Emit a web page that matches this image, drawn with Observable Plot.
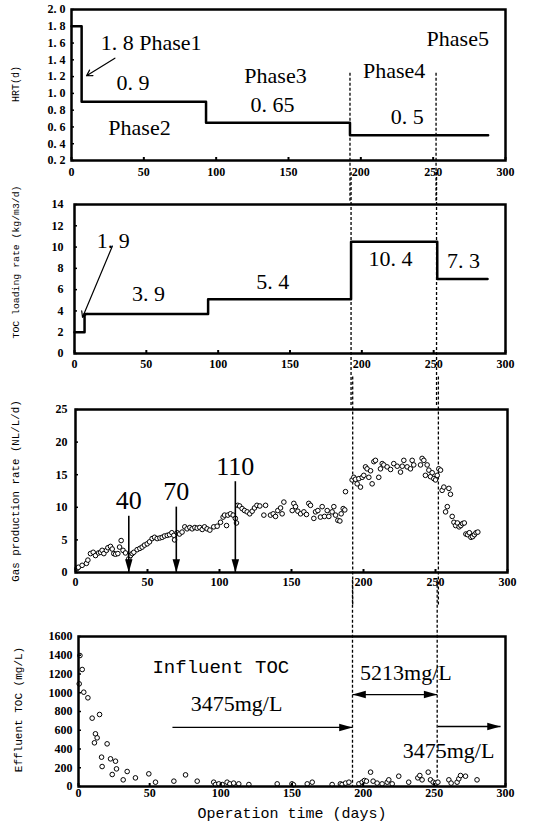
<!DOCTYPE html>
<html><head><meta charset="utf-8">
<script src="https://cdn.jsdelivr.net/npm/d3@7"></script>
<script src="https://cdn.jsdelivr.net/npm/@observablehq/plot@0.6"></script>
<style>
body{margin:0;background:#fff;width:536px;height:827px;overflow:hidden}
#chart svg{display:block;overflow:visible}
#chart svg text{font-family:"Liberation Serif","DejaVu Serif",serif !important}
</style></head><body><div id="chart"></div>
<script>
// ---------- shared ----------
const xTicks = [0, 50, 100, 150, 200, 250, 300];
const phaseBounds = [192.5, 252];

// ---------- panel 1: HRT ----------
const hrtDay = [0, 7, 93, 192.5, 288];
const hrtVal = [1.8, 0.9, 0.65, 0.5, 0.5];
const hrtTicks = [0.2, 0.4, 0.6, 0.8, 1.0, 1.2, 1.4, 1.6, 1.8, 2.0];
const hrtNotes = ["1. 8 Phase1", "0. 9", "Phase2", "Phase3", "0. 65", "Phase4", "0. 5", "Phase5"];
const hrtNoteDay = [55, 42.5, 47, 141, 139, 223, 232, 267];
const hrtNoteVal = [1.6, 1.12, 0.59, 1.21, 0.86, 1.27, 0.72, 1.65];

// ---------- panel 2: TOC loading rate ----------
const loadDay = [0, 7, 93, 192.5, 252.5, 287.5];
const loadVal = [2.0, 3.7, 5.1, 10.5, 7.0, 7.0];
const loadTicks = [0, 2, 4, 6, 8, 10, 12, 14];
const loadNotes = ["1. 9", "3. 9", "5. 4", "10. 4", "7. 3"];
const loadNoteDay = [27, 51.5, 138, 220, 270.7];
const loadNoteVal = [10.6, 5.55, 6.7, 8.9, 8.7];

// ---------- panel 3: gas production ----------
const gasDay = [1,2,4.6,7.6,8.6,10.4,12.3,13.9,16,17.4,18.5,19.7,21.5,22.5,24.3,25.5,26.6,27.8,29.4,30.6,31.7,33,34.7,37,38.2,39.4,40.5,42.8,44.7,46.3,47.9,49.8,51.4,53.2,54.9,56.7,58.6,60.2,61.8,63.7,65.3,66.9,68.3,68.8,70.6,72.2,74,75.9,77.5,79.4,81,82.9,84.5,86.3,88,89.6,91.4,93.3,96,98.4,100.7,102.5,103.5,104.9,105.8,107.6,109.5,111,111.8,112.7,114,115.7,117.4,119.2,121,122.7,124.3,126,128,130.8,132,135.4,137.3,138.9,140.5,142.4,143.5,144.7,150.5,151.6,152.8,154.4,156.3,158.6,160.4,162,163.2,165.5,166.7,168.3,170.1,171.3,172.9,174.8,175.9,178.2,179.4,180.6,182.2,183.6,184.5,185.9,187,187.5,192.1,193.3,194.4,195.6,196.8,197.9,199.1,200.2,201.4,202.5,203.7,204.9,206,207.2,208.3,210.6,211.8,213,214.1,216.4,218.8,221,223.4,225.7,226.9,228,230.3,232.6,233.8,234.9,239.6,240.7,241.9,243,244.2,245.4,246.5,247.7,248.8,250,251.2,252.3,253.5,254.6,255.8,257,258.2,259.3,260.4,261.6,262.8,264,265.2,266.4,267.6,268.8,270,271.1,272.3,273.5,274.6,275.8,277,278.2,279.4];
const gasVal = [0.6,0.8,1.1,1.4,1.9,2.9,3.1,2.6,3.0,3.1,3.4,2.9,3.4,3.8,4.0,3.6,2.9,2.8,2.9,3.9,4.9,3.4,3.0,2.1,2.6,2.9,3.1,3.5,3.7,3.9,4.2,4.4,4.7,5.2,5.4,5.2,5.3,5.4,5.6,5.7,5.8,6.1,5.7,5.0,6.1,5.9,6.2,7.0,6.7,6.9,6.7,6.9,6.8,6.9,6.6,7.0,6.7,6.5,7.0,7.1,7.7,8.5,8.8,7.2,8.8,9.0,8.8,8.3,7.6,10.3,10.2,9.8,9.5,9.3,9.0,9.4,9.9,10.3,10.2,8.8,10.3,8.8,9.0,8.6,9.5,9.9,9.0,10.8,9.5,10.6,10.1,9.4,9.0,9.3,8.9,10.6,10.3,8.3,9.3,9.5,8.5,10.1,8.6,9.5,8.6,9.3,10.1,8.8,8.0,7.9,9.0,9.8,9.6,12.4,14.2,14.6,14.3,13.6,14.4,13.1,14.6,14.9,16.2,15.9,14.6,15.6,13.6,17.0,17.2,14.6,15.9,16.7,16.5,16.2,15.8,16.7,16.3,15.4,16.3,17.2,16.2,15.9,17.2,16.5,16.5,17.5,17.2,14.9,16.5,15.7,14.7,15.3,14.4,14.2,14.9,15.9,15.7,12.6,13.1,9.3,10.1,12.9,12.0,8.6,7.7,7.2,7.6,7.0,7.2,7.5,7.6,5.9,5.8,6.1,5.4,5.5,5.8,6.1,6.2];
const gasTicks = [0, 5, 10, 15, 20, 25];
const gasArrowDay = [37, 70, 111];
const gasArrowTop = [8.7, 10.1, 14.0];
const gasArrowText = ["40", "70", "110"];

// ---------- panel 4: effluent TOC ----------
const tocDay = [0.5,1,2.6,3.7,6.6,9.6,11.2,11.9,13.1,14.8,16.2,16.6,20.1,22.5,23.7,26,26.7,31.4,34.2,40,49.4,54.1,67,75.2,83.4,95,96.3,98.6,101,104.4,106.3,109,112.6,119.7,139.6,150,151,160.7,164.2,178.2,184,185.2,187.6,190,197,199.3,200.9,202.3,205.2,207,209.8,213.3,216.9,218,220.4,225,232,238.4,239.8,241.4,245.7,247.3,249.2,250.8,252.5,260.2,261.8,266,267.2,268.4,271.9,280];
const tocVal = [1095,1397,1248,1006,946,729,466,562,519,768,313,213,455,295,128,270,188,71,160,92,135,46,57,124,57,46,21,28,21,46,28,36,28,21,28,28,18,28,46,21,28,21,36,46,28,46,64,57,153,57,36,28,46,71,28,110,46,92,117,71,153,71,46,36,46,71,36,46,82,117,110,71];
const tocTicks = [0, 200, 400, 600, 800, 1000, 1200, 1400, 1600];
const tocTitle = ["Influent TOC"];
const tocTitleDay = [100];
const tocTitleVal = [1280];
const tocNotes = ["3475mg/L", "5213mg/L", "3475mg/L"];
const tocNoteDay = [111, 230, 260];
const tocNoteVal = [885, 1216, 384];
const tocArrowFrom = [66, 192.5, 252.5];
const tocArrowTo = [192.5, 252, 296.5];
const tocArrowVal = [630, 981, 640];
const tocHeadDay = [192.5, 252, 192.5, 296.5];
const tocHeadVal = [630, 981, 981, 640];
const tocHeadDir = [90, 90, -90, 90];

// axis titles (monospaced)
const axisTitles = ["HRT(d)", "TOC loading rate (kg/m3/d)", "Gas production rate (NL/L/d)", "Effluent TOC (mg/L)"];
const xTitle = "Operation time (days)";
const monoTexts = [...axisTitles, xTitle, ...tocTitle];

// ---------- helpers ----------
const MONO = '"Liberation Mono", "DejaVu Sans Mono", monospace';
const headSymbol = {draw(ctx, size) {
  const L = Math.sqrt(size);
  ctx.moveTo(0, 0); ctx.lineTo(L * 0.28, L); ctx.lineTo(-L * 0.28, L); ctx.closePath();
}};
const idx = a => a.map((_, i) => i);

function panel({height, mt, mb, ml, mr, yDomain, yTicks, yFmt, xPad, yPad, title, titleDx, titleDy, titleSize, dash, marks, extra = []}) {
  const svg = Plot.plot({
    width: 536, height, marginTop: mt, marginBottom: mb, marginLeft: ml, marginRight: mr,
    x: {domain: [0, 300], axis: null},
    y: {domain: yDomain, axis: null},
    style: {background: "white", color: "black", overflow: "visible"},
    marks: [
      Plot.ruleX(phaseBounds, {x: d => d, y1: dash[0], y2: dash[1], stroke: "black", strokeWidth: 1.3, strokeDasharray: "3,2"}),
      ...marks,
      Plot.frame({stroke: "black", strokeWidth: 2.5}),
      Plot.axisX(xTicks, {tickSize: -3, tickPadding: xPad + 3, fontSize: 12, fontWeight: "bold", strokeWidth: 2}),
      Plot.axisY(yTicks, {tickSize: -3, tickPadding: yPad + 3, tickFormat: yFmt, fontSize: 12, fontWeight: "bold", strokeWidth: 1.5}),
      Plot.text([title], {frameAnchor: "left", textAnchor: "middle", rotate: -90, dx: titleDx, dy: titleDy, fontSize: titleSize, fill: "black"}),
      ...extra
    ]
  });
  d3.select(svg).selectAll("text").each(function() {
    if (monoTexts.includes(this.textContent)) this.style.setProperty("font-family", MONO, "important");
  });
  return svg;
}

const chart = document.getElementById("chart");

// panel 1
chart.append(panel({
  height: 190, mt: 9, mb: 30, ml: 71, mr: 31,
  yDomain: [0.2, 2.0], yTicks: hrtTicks, yFmt: d => d.toFixed(1).replace(".", ". "),
  xPad: 7, yPad: 6, title: axisTitles[0], titleDx: -56, titleDy: -1, titleSize: 10,
  dash: [1.24, -0.3],
  marks: [
    Plot.line(idx(hrtDay), {x: i => hrtDay[i], y: i => hrtVal[i], curve: "step-after", stroke: "black", strokeWidth: 2.5}),
    Plot.arrow([0], {x1: () => 30, y1: () => 1.42, x2: () => 10.4, y2: () => 1.21, stroke: "black", strokeWidth: 1.2, headLength: 8}),
    Plot.text(idx(hrtNotes), {x: i => hrtNoteDay[i], y: i => hrtNoteVal[i], text: i => hrtNotes[i], fontSize: 22, fill: "black"})
  ]
}));

// panel 2
chart.append(panel({
  height: 200, mt: 14, mb: 37, ml: 74, mr: 31,
  yDomain: [0, 14], yTicks: loadTicks, yFmt: d => String(d),
  xPad: 6, yPad: 11, title: axisTitles[1], titleDx: -59, titleDy: -17, titleSize: 9.8,
  dash: [17, -5],
  marks: [
    Plot.line(idx(loadDay), {x: i => loadDay[i], y: i => loadVal[i], curve: "step-after", stroke: "black", strokeWidth: 2.5}),
    Plot.arrow([0], {x1: () => 26.4, y1: () => 10.1, x2: () => 5.6, y2: () => 3.4, stroke: "black", strokeWidth: 1.2, headLength: 8}),
    Plot.text(idx(loadNotes), {x: i => loadNoteDay[i], y: i => loadNoteVal[i], text: i => loadNotes[i], fontSize: 22, fill: "black"})
  ]
}));

// panel 3
chart.append(panel({
  height: 200, mt: 19, mb: 18, ml: 75, mr: 29,
  yDomain: [0, 25], yTicks: gasTicks, yFmt: d => String(d),
  xPad: 5, yPad: 8, title: axisTitles[2], titleDx: -60, titleDy: 0, titleSize: 10.8,
  dash: [30, -5],
  marks: [
    Plot.dot(idx(gasDay), {x: i => gasDay[i], y: i => gasVal[i], r: 2.3, stroke: "black", strokeWidth: 1, fill: "white"}),
    Plot.link(idx(gasArrowDay), {x1: i => gasArrowDay[i], x2: i => gasArrowDay[i], y1: i => gasArrowTop[i], y2: () => 0, stroke: "black", strokeWidth: 1.6}),
    Plot.dot(idx(gasArrowDay), {x: i => gasArrowDay[i], y: () => 0, symbol: headSymbol, r: 7.5, rotate: 180, fill: "black", stroke: "none"}),
    Plot.text(idx(gasArrowDay), {x: i => gasArrowDay[i], y: i => gasArrowTop[i], text: i => gasArrowText[i], dy: -15, fontSize: 26, fill: "black"})
  ]
}));

// panel 4
chart.append(panel({
  height: 237, mt: 46, mb: 41, ml: 78, mr: 31,
  yDomain: [0, 1600], yTicks: tocTicks, yFmt: d => String(d),
  xPad: 2, yPad: 6, title: axisTitles[3], titleDx: -60, titleDy: -2, titleSize: 11,
  dash: [2200, 0],
  marks: [
    Plot.dot(idx(tocDay), {x: i => tocDay[i], y: i => tocVal[i], r: 2.3, stroke: "black", strokeWidth: 1, fill: "white"}),
    Plot.link(idx(tocArrowFrom), {x1: i => tocArrowFrom[i], x2: i => tocArrowTo[i], y1: i => tocArrowVal[i], y2: i => tocArrowVal[i], stroke: "black", strokeWidth: 1.3}),
    Plot.dot(idx(tocHeadDay), {x: i => tocHeadDay[i], y: i => tocHeadVal[i], symbol: headSymbol, r: 7.5, rotate: i => tocHeadDir[i], fill: "black", stroke: "none"}),
    Plot.text(idx(tocTitle), {x: i => tocTitleDay[i], y: i => tocTitleVal[i], text: i => tocTitle[i], fontSize: 19, fill: "black"}),
    Plot.text(idx(tocNotes), {x: i => tocNoteDay[i], y: i => tocNoteVal[i], text: i => tocNotes[i], fontSize: 22, fill: "black"})
  ],
  extra: [
    Plot.text([xTitle], {frameAnchor: "bottom", dy: 31, fontSize: 15, fill: "black"})
  ]
}));
</script></body></html>
